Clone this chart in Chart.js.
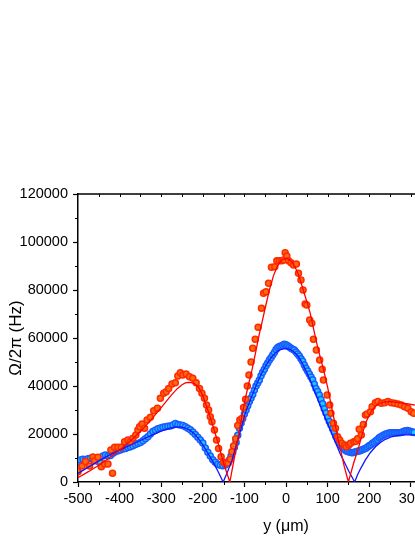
<!DOCTYPE html>
<html>
<head>
<meta charset="utf-8">
<title>Omega/2pi vs y</title>
<script src="https://cdn.jsdelivr.net/npm/chart.js@4.4.1/dist/chart.umd.min.js"></script>
<style>
  html, body { margin: 0; padding: 0; background: #fff; overflow: hidden; }
  #wrap { width: 520px; height: 537px; }
  canvas { display: block; }
</style>
</head>
<body>
<div id="wrap"><canvas id="omegaChart" width="520" height="537"></canvas></div>
<script>
// measured points (red = upper series, blue = lower series), y in um, value in Hz
const redX = [-500, -490, -482, -472, -464, -460, -452, -444, -436, -428, -421, -417, -412, -404, -396, -388,
  -380, -374, -368, -361, -356, -352, -346, -340, -334, -326, -318, -309, -302, -294, -288, -282, -274, -266,
  -260, -254, -248, -240, -232, -224, -216, -208, -202, -196, -191, -186, -182, -178, -172, -167, -162, -156,
  -150, -144, -139, -134, -130, -126, -121, -116, -111, -106, -102, -97, -93, -89, -84, -80, -74, -67, -59,
  -54, -48, -42, -35, -27, -22, -16, -10, -6, -2, 2, 6, 12, 18, 25, 30, 36, 41, 46, 50, 57, 62, 66, 73, 81,
  87, 90, 99, 105, 108, 114, 119, 124, 129, 134, 141, 145, 151, 155, 163, 168, 172, 176, 181, 186, 191, 195,
  203, 207, 215, 221, 229, 237, 245, 253, 261, 269, 277, 285, 293, 301, 307];
const redY = [4300, 6700, 8500, 6700, 10400, 8900, 10300, 6400, 7500, 7500, 13300, 3600, 14500, 14500, 14500, 16800,
  17500, 16800, 18200, 19600, 21700, 23000, 24200, 22400, 25800, 27000, 29700, 30700, 34900, 37000, 37600, 39000, 40800, 41400,
  44200, 45500, 44600, 45000, 43900, 43200, 41400, 39000, 37000, 34900, 32100, 30000, 27200, 25100, 21700, 17500, 14000, 10500,
  8200, 7800, 7800, 9500, 12600, 15000, 18000, 23500, 25800, 26500, 31000, 34500, 40000, 44600, 50000, 55700, 59500, 64500, 72400,
  78600, 79300, 82800, 89500, 89700, 92200, 92200, 92200, 92500, 95500, 94200, 92200, 91400, 90400, 90800, 87000, 84200, 80000, 74200, 73700, 67500, 66100, 59500, 55000, 50800,
  47000, 42500, 36200, 32100, 28600, 24500, 22400, 18900, 17500, 16100, 15400, 14700, 15400, 16100, 16800, 17000, 18000, 22000, 19600, 24000, 27900, 28300,
  29300, 31400, 33000, 33500, 32800, 33000, 33500, 33000, 32800, 32500, 32100, 31400, 30700, 29300, 28600];

const blueX = [-500, -494, -488, -482, -476, -470, -464, -458, -451, -446, -440, -434, -428, -422, -416, -410,
  -404, -398, -392, -386, -380, -374, -368, -362, -356, -350, -344, -338, -332, -326, -320, -314, -308, -302,
  -296, -290, -284, -278, -272, -266, -260, -254, -248, -242, -236, -230, -224, -218, -212, -206, -200, -194,
  -188, -182, -176, -170, -164, -158, -152, -146, -140, -136, -132, -128, -124, -120, -116, -112, -108, -104,
  -100, -96, -92, -88, -84, -80, -76, -72, -68, -64, -60, -56, -52, -48, -44, -40, -36, -32, -28, -24, -20,
  -16, -12, -8, -4, 0, 4, 8, 12, 16, 20, 24, 28, 32, 36, 40, 44, 48, 52, 56, 60, 64, 68, 72, 76, 80, 84, 88,
  92, 96, 100, 104, 108, 112, 116, 120, 124, 128, 132, 136, 140, 144, 148, 152, 156, 160, 164, 168, 172, 176,
  180, 184, 188, 192, 196, 200, 204, 208, 212, 216, 220, 224, 228, 232, 236, 240, 244, 248, 252, 256, 260, 264,
  268, 272, 276, 280, 284, 288, 292, 296, 300, 304, 308];
const blueY = [8500, 9200, 9500, 9300, 9700, 9900, 9500, 9200, 8500, 8000, 10800, 11200, 10800, 11000, 12000, 12600,
  13000, 13300, 13700, 14000, 14400, 14700, 15100, 15600, 16000, 16500, 17200, 18000, 18900, 20000, 21000, 21600, 22200, 22500,
  22800, 23000, 23200, 23300, 23800, 24400, 24000, 23700, 23500, 23000, 22400, 21800, 20800, 19800, 18600, 17500, 16200, 14200,
  12400, 10800, 9300, 8200, 7400, 7000, 6800, 7100, 8000, 9200, 10800, 12500, 14500, 16500, 19500, 22400, 24600, 26500,
  28300, 30000, 31800, 33500, 35000, 36500, 38300, 40000, 41300, 42500, 44300, 45700, 47000, 48400, 49600, 50800, 51800, 52900, 54000, 55200, 56000,
  56500, 56700, 57000, 57400, 57200, 56800, 56300, 55700, 55300, 55000, 54200, 53300, 52500, 51400, 50300, 48800, 47400, 46200, 45000, 43800, 42600, 40700, 39000, 37700, 36300, 34400, 32600,
  30500, 28700, 26900, 25200, 23800, 22200, 20700, 19000, 17500, 16200, 15200, 14300, 13600, 13000, 12700, 12500, 12300, 12200, 12400, 12600, 12800, 12900,
  13100, 13500, 13800, 14100, 14600, 15100, 15500, 16100, 16600, 17200, 17700, 18400, 18900, 19300, 19700, 20000, 20200, 20400, 20500, 20500, 20500, 20500,
  20500, 20500, 20600, 20800, 21100, 21400, 21500, 21300, 21000, 20800, 20600];

// fitted curves (sharp zeros, so drawn as straight segments)
const redFitX = [-500, -475, -450, -425, -400, -375, -350, -325, -300, -287, -275, -262, -250, -242, -235, -228, -220,
  -210, -200, -187, -175, -162, -150, -135,
  -122, -110, -100, -91, -82, -73, -65, -57, -50, -40, -30, -22, -15, -7, 0, 7, 15, 22, 30, 38, 45, 52, 58, 66,
  75, 83, 90, 100, 107, 114, 125, 133, 140, 150,
  162, 175, 183, 191, 199, 207, 216, 225, 237, 250, 262, 275, 290, 311];
const redFitY = [1800, 4300, 7000, 10000, 13300, 17000, 21000, 25800, 31000, 33800, 36300, 38800, 40500, 41300, 41500, 41400, 41000,
  39500, 36000, 29500, 23000, 15500, 7800, 0,
  12000, 23500, 33000, 40000, 46500, 54000, 61000, 67000, 72500, 80000, 86000, 89500, 91500, 92800, 93200, 92800, 91500, 89500, 86500, 82000, 78000, 74000, 70500, 64000,
  57000, 51500, 47000, 39500, 33500, 27500, 18000, 12000, 6500, 0,
  7500, 14700, 19800, 24400, 27500, 30000, 31800, 32800, 33400, 33500, 33300, 33000, 32600, 32000];

const blueFitX = [-500, -475, -450, -425, -400, -375, -350, -325, -300, -287, -275, -260, -250, -240, -230, -220, -210,
  -200, -188, -175, -163, -151,
  -140, -130, -122, -115, -107, -98, -90, -82, -74, -66, -58, -50, -42, -34, -25, -15, -7, 0, 7, 15, 22, 30, 36,
  42, 50, 60, 67, 75, 82, 90, 98, 107, 114, 120, 131, 141, 151, 158, 165,
  172, 180, 191, 203, 215, 227, 239, 251, 263, 275, 287, 311];
const blueFitY = [3600, 6200, 8800, 11200, 13300, 15300, 17300, 19300, 21200, 22000, 22600, 23000, 22900, 22400, 21500, 20000, 18000,
  15500, 12000, 8300, 4300, 0,
  4500, 9000, 13800, 18000, 23000, 28600, 32300, 35800, 39300, 42500, 45400, 48000, 50300, 52200, 53900, 55000, 55500, 55600, 55400, 54700, 53800, 52200, 50500,
  48500, 45600, 41700, 38500, 35000, 32000, 28500, 25200, 21500, 18500, 16000, 11500, 8000, 4500, 2300, 0,
  3000, 5800, 9200, 12300, 14700, 16500, 17800, 18700, 19200, 19500, 19600, 19600];

const yTicks = [0, 20000, 40000, 60000, 80000, 100000, 120000];

function toPoints(xs, ys) {
  return xs.map((x, i) => ({ x: x, y: ys[i] }));
}

const FONT = "'Liberation Sans', Arial, sans-serif";

// frame on top/right and the small minor ticks Chart.js can't do itself
const framePlugin = {
  id: "frame",
  afterDraw(chart) {
    const { ctx, chartArea: a, scales } = chart;
    ctx.save();
    ctx.strokeStyle = "#000";
    ctx.lineWidth = 1.5;
    ctx.beginPath();
    ctx.moveTo(a.left, a.top);
    ctx.lineTo(a.right, a.top);
    ctx.lineTo(a.right, a.bottom);
    ctx.stroke();

    ctx.lineWidth = 1;
    ctx.beginPath();
    for (let v = -450; v <= 450; v += 100) {
      const px = Math.round(scales.x.getPixelForValue(v)) + 0.5;
      ctx.moveTo(px, a.bottom);
      ctx.lineTo(px, a.bottom + 3);
    }
    for (let v = -450; v <= 450; v += 50) {
      const px = Math.round(scales.x.getPixelForValue(v)) + 0.5;
      ctx.moveTo(px, a.top);
      ctx.lineTo(px, a.top + 3);
    }
    for (let v = 10000; v < 120000; v += 20000) {
      const py = Math.round(scales.y.getPixelForValue(v)) + 0.5;
      ctx.moveTo(a.left, py);
      ctx.lineTo(a.left - 3, py);
    }
    ctx.stroke();
    ctx.restore();
  }
};

const ctx = document.getElementById("omegaChart").getContext("2d");
new Chart(ctx, {
  type: "scatter",
  data: {
    datasets: [
      {
        label: "red fit",
        data: toPoints(redFitX, redFitY),
        showLine: true,
        borderColor: "#ff0000",
        borderWidth: 1.3,
        pointRadius: 0,
        tension: 0,
        order: 0
      },
      {
        label: "blue fit",
        data: toPoints(blueFitX, blueFitY),
        showLine: true,
        borderColor: "#1414ff",
        borderWidth: 1.3,
        pointRadius: 0,
        tension: 0,
        order: 1
      },
      {
        label: "red data",
        data: toPoints(redX, redY),
        pointRadius: 3,
        pointBorderWidth: 1.5,
        pointBackgroundColor: "#ff6a10",
        pointBorderColor: "#ff2a00",
        order: 2
      },
      {
        label: "blue data",
        data: toPoints(blueX, blueY),
        pointRadius: 3,
        pointBorderWidth: 1.5,
        pointBackgroundColor: "#20c8ff",
        pointBorderColor: "#1a5cff",
        order: 3
      }
    ]
  },
  options: {
    responsive: false,
    animation: false,
    layout: { padding: { top: 194, right: 26, left: 0, bottom: 0 } },
    plugins: { legend: { display: false }, tooltip: { enabled: false } },
    scales: {
      x: {
        type: "linear",
        min: -500,
        max: 500,
        afterFit: (scale) => { scale.height = 55; },
        ticks: { stepSize: 100, color: "#000", font: { family: FONT, size: 14.5 }, padding: 3, maxRotation: 0 },
        grid: { drawOnChartArea: false, tickLength: 5, tickColor: "#000", tickWidth: 1.2 },
        border: { color: "#000", width: 1.5 },
        title: { display: true, text: "y (\u03bcm)", color: "#000", font: { family: FONT, size: 16 }, padding: { top: 0, bottom: 1 } }
      },
      y: {
        min: 0,
        max: 120000,
        afterFit: (scale) => { scale.width = 78; },
        afterBuildTicks: (scale) => { scale.ticks = yTicks.map((v) => ({ value: v })); },
        ticks: { color: "#000", font: { family: FONT, size: 14.5 }, padding: 5, callback: (v) => String(v) },
        grid: { drawOnChartArea: false, tickLength: 5, tickColor: "#000", tickWidth: 1.2 },
        border: { color: "#000", width: 1.5 },
        title: { display: true, text: "\u03a9/2\u03c0 (Hz)", color: "#000", font: { family: FONT, size: 17 }, padding: { top: 6, bottom: 0 } }
      }
    }
  },
  plugins: [framePlugin]
});
</script>
</body>
</html>
